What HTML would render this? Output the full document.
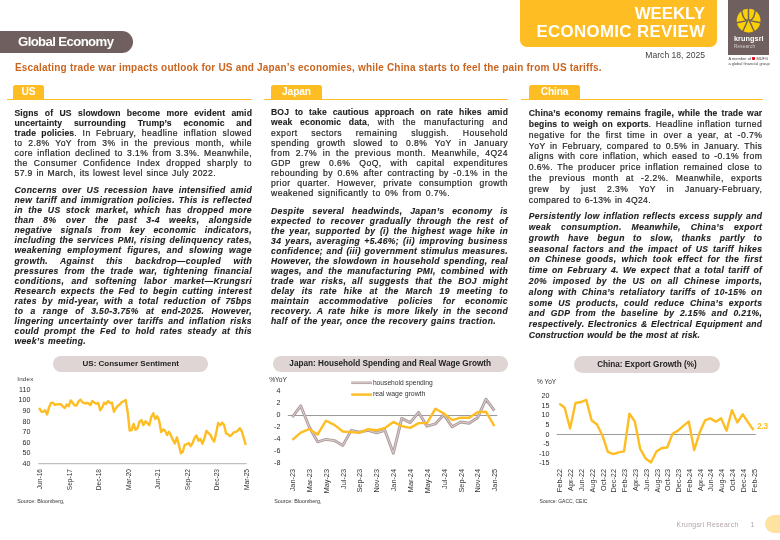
<!DOCTYPE html>
<html><head><meta charset="utf-8">
<style>
*{margin:0;padding:0;box-sizing:border-box}
html,body{width:780px;height:540px;overflow:hidden;background:#fff}
body{position:relative;will-change:transform;font-family:"Liberation Sans",sans-serif;color:#3d3d3d}
.a{position:absolute;white-space:nowrap}
.ln{position:absolute;height:10px;line-height:10px;font-size:8.6px;text-align:justify;text-align-last:justify;white-space:nowrap;overflow:visible;color:#262626;-webkit-text-stroke:0.2px #262626}
.ln.last{text-align-last:left}
.ln b{font-weight:bold;color:#1f1f1f;-webkit-text-stroke:0.12px #1f1f1f}
.ln.bi{font-weight:bold;font-style:italic;color:#222;-webkit-text-stroke:0.12px #222}
.ln.cn{line-height:10.8px;height:10.8px}
.yl{position:absolute;font-size:6.8px;line-height:10px;color:#2a2a2a;white-space:nowrap}
.yb{font-size:7.1px}
.xl{position:absolute;font-size:7px;line-height:8px;height:8px;color:#333;white-space:nowrap;transform-origin:0 0;transform:rotate(-90deg) translate(-100%,-4px);text-align:right}
.pill{position:absolute;background:#dfd5d5;border-radius:9px;font-weight:bold;font-size:8.2px;color:#222;text-align:center;white-space:nowrap}
.tab{position:absolute;top:85px;height:14.5px;background:#febd22;border-radius:2.5px 2.5px 0 0;color:#fff;font-weight:bold;font-size:10.2px;letter-spacing:-0.15px;line-height:13.6px;text-align:center}
.rule{position:absolute;top:99px;height:1px;background:#febd22}
.src{position:absolute;font-size:5px;color:#333;white-space:nowrap}
</style></head><body>
<!-- header -->
<div class="a" style="left:0;top:31px;width:133px;height:22.4px;background:#6f605f;border-radius:0 11.2px 11.2px 0"></div>
<div class="a" style="left:18px;top:32.5px;line-height:18px;font-size:13.2px;letter-spacing:-0.62px;font-weight:bold;color:#fff">Global Economy</div>
<div class="a" style="left:519.5px;top:0;width:197px;height:47px;background:#febd22;border-radius:0 0 7px 7px"></div>
<div class="a" style="right:75px;top:4.6px;font-size:16.8px;line-height:18.5px;font-weight:bold;color:#fff;text-align:right">WEEKLY<br><span style="letter-spacing:0.38px;margin-right:-0.38px">ECONOMIC REVIEW</span></div>
<div class="a" style="right:75px;top:50px;font-size:8.6px;line-height:10px;color:#444">March 18, 2025</div>
<div class="a" style="left:728.3px;top:0;width:40.9px;height:54.8px;background:#6f605f"></div>
<svg class="a" style="left:728px;top:0" width="42" height="55" viewBox="728 0 42 55">
 <circle cx="748.6" cy="20.7" r="11.9" fill="#f9cf05"/>
 <g transform="translate(748.5 20.8)" fill="none" stroke="#6f605f" stroke-width="1.45" stroke-linecap="butt" stroke-linejoin="miter">
  <path d="M0,-13 L0,-2 Q-2.2,3 -5.9,11"/>
  <path d="M0,-2 Q2.2,3 5.9,11"/>
  <path d="M-6.9,-10.8 C-5.8,-5 -5.4,-2.0 -1.2,-0.2 M-13,2.2 L-1.2,-0.2"/>
  <path d="M6.9,-10.8 C5.8,-5 5.4,-2.0 1.2,-0.2 M13,2.2 L1.2,-0.2"/>
 </g>
</svg>
<div class="a" style="left:733.9px;top:34.9px;font-size:7.3px;line-height:8px;letter-spacing:0.08px;font-weight:bold;color:#fff">krungsri</div>
<div class="a" style="left:733.9px;top:43.8px;font-size:4.6px;line-height:6px;letter-spacing:0.2px;color:#d6cfce">Research</div>
<div class="a" style="left:728.4px;top:57.2px;font-size:3.9px;line-height:4.5px;letter-spacing:0.05px;color:#444">A member of <span style="display:inline-block;width:3.2px;height:3.2px;border-radius:1px;background:#e3001b;vertical-align:-0.3px"></span> MUFG<br>a global financial group</div>
<div class="a" style="left:15px;top:62px;font-size:10px;line-height:11px;letter-spacing:0.19px;font-weight:bold;color:#ca6520">Escalating trade war impacts outlook for US and Japan’s economies, while China starts to feel the pain from US tariffs.</div>
<!-- tabs -->
<div class="tab" style="left:13.1px;width:30.7px">US</div>
<div class="rule" style="left:7.2px;width:245.2px"></div>
<div class="tab" style="left:271.3px;width:50.3px">Japan</div>
<div class="rule" style="left:263.5px;width:244.5px"></div>
<div class="tab" style="left:529px;width:51px">China</div>
<div class="rule" style="left:521.2px;width:241.5px"></div>
<!-- text -->
<div class="ln r" style="left:14.5px;top:107.5px;width:237.5px;letter-spacing:0.45px"><b style="letter-spacing:0.12px">Signs of US slowdown become more evident amid</b></div>
<div class="ln r" style="left:14.5px;top:117.53px;width:237.5px;letter-spacing:0.45px"><b style="letter-spacing:0.12px">uncertainty surrounding Trump’s economic and</b></div>
<div class="ln r" style="left:14.5px;top:127.56px;width:237.5px;letter-spacing:0.45px"><b style="letter-spacing:0.12px">trade policies</b>. In February, headline inflation slowed</div>
<div class="ln r" style="left:14.5px;top:137.59px;width:237.5px;letter-spacing:0.45px">to 2.8% YoY from 3% in the previous month, while</div>
<div class="ln r" style="left:14.5px;top:147.62px;width:237.5px;letter-spacing:0.45px">core inflation declined to 3.1% from 3.3%. Meanwhile,</div>
<div class="ln r" style="left:14.5px;top:157.65px;width:237.5px;letter-spacing:0.45px">the Consumer Confidence Index dropped sharply to</div>
<div class="ln r" style="left:14.5px;top:167.68px;width:201.5px;letter-spacing:0.39px">57.9 in March, its lowest level since July 2022.</div>
<div class="ln bi" style="left:14.5px;top:185.3px;width:237.5px;letter-spacing:0.35px">Concerns over US recession have intensified amid</div>
<div class="ln bi" style="left:14.5px;top:195.33px;width:237.5px;letter-spacing:0.35px">new tariff and immigration policies. This is reflected</div>
<div class="ln bi" style="left:14.5px;top:205.36px;width:237.5px;letter-spacing:0.35px">in the US stock market, which has dropped more</div>
<div class="ln bi" style="left:14.5px;top:215.39px;width:237.5px;letter-spacing:0.35px">than 8% over the past 3-4 weeks, alongside</div>
<div class="ln bi" style="left:14.5px;top:225.42px;width:237.5px;letter-spacing:0.35px">negative signals from key economic indicators,</div>
<div class="ln bi" style="left:14.5px;top:235.45px;width:237.5px;letter-spacing:0.35px">including the services PMI, rising delinquency rates,</div>
<div class="ln bi" style="left:14.5px;top:245.48px;width:237.5px;letter-spacing:0.35px">weakening employment figures, and slowing wage</div>
<div class="ln bi" style="left:14.5px;top:255.51px;width:237.5px;letter-spacing:0.35px">growth. Against this backdrop—coupled with</div>
<div class="ln bi" style="left:14.5px;top:265.54px;width:237.5px;letter-spacing:0.35px">pressures from the trade war, tightening financial</div>
<div class="ln bi" style="left:14.5px;top:275.57px;width:237.5px;letter-spacing:0.35px">conditions, and softening labor market—Krungsri</div>
<div class="ln bi" style="left:14.5px;top:285.6px;width:237.5px;letter-spacing:0.35px">Research expects the Fed to begin cutting interest</div>
<div class="ln bi" style="left:14.5px;top:295.63px;width:237.5px;letter-spacing:0.35px">rates by mid-year, with a total reduction of 75bps</div>
<div class="ln bi" style="left:14.5px;top:305.66px;width:237.5px;letter-spacing:0.35px">to a range of 3.50-3.75% at end-2025. However,</div>
<div class="ln bi" style="left:14.5px;top:315.69px;width:237.5px;letter-spacing:0.35px">lingering uncertainty over tariffs and inflation risks</div>
<div class="ln bi" style="left:14.5px;top:325.72px;width:237.5px;letter-spacing:0.35px">could prompt the Fed to hold rates steady at this</div>
<div class="ln bi" style="left:14.5px;top:335.75px;width:71.5px;letter-spacing:0.33px">week’s meeting.</div>
<div class="ln r" style="left:271px;top:107.4px;width:237px;letter-spacing:0.45px"><b style="letter-spacing:0.12px">BOJ to take cautious approach on rate hikes amid</b></div>
<div class="ln r" style="left:271px;top:117.45px;width:237px;letter-spacing:0.45px"><b style="letter-spacing:0.12px">weak economic data</b>, with the manufacturing and</div>
<div class="ln r" style="left:271px;top:127.5px;width:237px;letter-spacing:0.45px">export sectors remaining sluggish. Household</div>
<div class="ln r" style="left:271px;top:137.55px;width:237px;letter-spacing:0.45px">spending growth slowed to 0.8% YoY in January</div>
<div class="ln r" style="left:271px;top:147.6px;width:237px;letter-spacing:0.45px">from 2.7% in the previous month. Meanwhile, 4Q24</div>
<div class="ln r" style="left:271px;top:157.65px;width:237px;letter-spacing:0.45px">GDP grew 0.6% QoQ, with capital expenditures</div>
<div class="ln r" style="left:271px;top:167.7px;width:237px;letter-spacing:0.45px">rebounding by 0.6% after contracting by -0.1% in the</div>
<div class="ln r" style="left:271px;top:177.75px;width:237px;letter-spacing:0.45px">prior quarter. However, private consumption growth</div>
<div class="ln r" style="left:271px;top:187.8px;width:179px;letter-spacing:0.45px">weakened significantly to 0% from 0.7%.</div>
<div class="ln bi" style="left:271px;top:205.6px;width:237px;letter-spacing:0.35px">Despite several headwinds, Japan’s economy is</div>
<div class="ln bi" style="left:271px;top:215.63px;width:237px;letter-spacing:0.35px">expected to recover gradually through the rest of</div>
<div class="ln bi" style="left:271px;top:225.66px;width:237px;letter-spacing:0.35px">the year, supported by (i) the highest wage hike in</div>
<div class="ln bi" style="left:271px;top:235.69px;width:237px;letter-spacing:0.35px">34 years, averaging +5.46%; (ii) improving business</div>
<div class="ln bi" style="left:271px;top:245.72px;width:237px;letter-spacing:0.35px">confidence; and (iii) government stimulus measures.</div>
<div class="ln bi" style="left:271px;top:255.75px;width:237px;letter-spacing:0.35px">However, the slowdown in household spending, real</div>
<div class="ln bi" style="left:271px;top:265.78px;width:237px;letter-spacing:0.35px">wages, and the manufacturing PMI, combined with</div>
<div class="ln bi" style="left:271px;top:275.81px;width:237px;letter-spacing:0.35px">trade war risks, all suggests that the BOJ might</div>
<div class="ln bi" style="left:271px;top:285.84px;width:237px;letter-spacing:0.35px">delay its rate hike at the March 19 meeting to</div>
<div class="ln bi" style="left:271px;top:295.87px;width:237px;letter-spacing:0.35px">maintain accommodative policies for economic</div>
<div class="ln bi" style="left:271px;top:305.9px;width:237px;letter-spacing:0.35px">recovery. A rate hike is more likely in the second</div>
<div class="ln bi" style="left:271px;top:315.93px;width:225px;letter-spacing:0.35px">half of the year, once the recovery gains traction.</div>
<div class="ln cn" style="left:528.8px;top:108.2px;width:233.5px;letter-spacing:0.45px"><b style="letter-spacing:0.12px">China’s economy remains fragile, while the trade war</b></div>
<div class="ln cn" style="left:528.8px;top:119px;width:233.5px;letter-spacing:0.45px"><b style="letter-spacing:0.12px">begins to weigh on exports</b>. Headline inflation turned</div>
<div class="ln cn" style="left:528.8px;top:129.8px;width:233.5px;letter-spacing:0.45px">negative for the first time in over a year, at -0.7%</div>
<div class="ln cn" style="left:528.8px;top:140.6px;width:233.5px;letter-spacing:0.45px">YoY in February, compared to 0.5% in January. This</div>
<div class="ln cn" style="left:528.8px;top:151.4px;width:233.5px;letter-spacing:0.45px">aligns with core inflation, which eased to -0.1% from</div>
<div class="ln cn" style="left:528.8px;top:162.2px;width:233.5px;letter-spacing:0.45px">0.6%. The producer price inflation remained close to</div>
<div class="ln cn" style="left:528.8px;top:173px;width:233.5px;letter-spacing:0.45px">the previous month at -2.2%. Meanwhile, exports</div>
<div class="ln cn" style="left:528.8px;top:183.8px;width:233.5px;letter-spacing:0.45px">grew by just 2.3% YoY in January-February,</div>
<div class="ln cn" style="left:528.8px;top:194.6px;width:122.2px;letter-spacing:0.35px">compared to 6-13% in 4Q24.</div>
<div class="ln cn bi" style="left:528.8px;top:211.2px;width:233.5px;letter-spacing:0.3px">Persistently low inflation reflects excess supply and</div>
<div class="ln cn bi" style="left:528.8px;top:222px;width:233.5px;letter-spacing:0.35px">weak consumption. Meanwhile, China’s export</div>
<div class="ln cn bi" style="left:528.8px;top:232.8px;width:233.5px;letter-spacing:0.35px">growth have begun to slow, thanks partly to</div>
<div class="ln cn bi" style="left:528.8px;top:243.6px;width:233.5px;letter-spacing:0.35px">seasonal factors and the impact of US tariff hikes</div>
<div class="ln cn bi" style="left:528.8px;top:254.4px;width:233.5px;letter-spacing:0.35px">on Chinese goods, which took effect for the first</div>
<div class="ln cn bi" style="left:528.8px;top:265.2px;width:233.5px;letter-spacing:0.35px">time on February 4. We expect that a total tariff of</div>
<div class="ln cn bi" style="left:528.8px;top:276px;width:233.5px;letter-spacing:0.35px">20% imposed by the US on all Chinese imports,</div>
<div class="ln cn bi" style="left:528.8px;top:286.8px;width:233.5px;letter-spacing:0.35px">along with China’s retaliatory tariffs of 10-15% on</div>
<div class="ln cn bi" style="left:528.8px;top:297.6px;width:233.5px;letter-spacing:0.35px">some US products, could reduce China’s exports</div>
<div class="ln cn bi" style="left:528.8px;top:308.4px;width:233.5px;letter-spacing:0.35px">and GDP from the baseline by 2.15% and 0.21%,</div>
<div class="ln cn bi" style="left:528.8px;top:319.2px;width:233.5px;letter-spacing:0.29px">respectively. Electronics &amp; Electrical Equipment and</div>
<div class="ln cn bi" style="left:528.8px;top:330px;width:171.2px;letter-spacing:0.13px">Construction would be the most at risk.</div>
<!-- charts -->
<div class="pill" style="left:53.3px;top:355.8px;width:155px;height:16px;line-height:16px;font-size:8px">US: Consumer Sentiment</div>
<div class="pill" style="left:272.7px;top:355.9px;width:235px;height:16.6px;line-height:16.6px">Japan: Household Spending and Real Wage Growth</div>
<div class="pill" style="left:574.2px;top:355.8px;width:145.5px;height:17px;line-height:17px">China: Export Growth (%)</div>
<svg class="a" style="left:0;top:0" width="780" height="540" viewBox="0 0 780 540">
<line x1="38.3" y1="463.7" x2="246.7" y2="463.7" stroke="#b0b0b0" stroke-width="1"/>
<polyline points="39.20,407.90 41.17,411.55 43.13,411.76 45.10,410.30 47.07,414.47 49.03,407.59 51.00,403.00 52.97,402.68 54.93,404.98 56.90,404.35 58.87,404.25 60.83,404.14 62.80,406.33 64.77,408.00 66.73,404.46 68.70,406.23 70.67,400.39 72.63,402.68 74.60,405.40 76.57,405.60 78.53,401.43 80.50,399.66 82.47,402.37 84.43,403.21 86.40,403.00 88.37,403.31 90.33,405.08 92.30,401.02 94.27,402.58 96.23,403.73 98.20,402.89 100.17,410.30 102.13,407.59 104.10,402.79 106.07,404.04 108.03,401.12 110.00,403.00 111.97,402.79 113.93,411.76 115.90,408.21 117.87,405.81 119.83,404.46 121.80,401.85 123.77,401.33 125.73,400.08 127.70,412.49 129.67,430.53 131.63,430.01 133.60,423.96 135.57,429.80 137.53,428.13 139.50,421.56 141.47,420.10 143.43,425.21 145.40,421.25 147.37,423.02 149.33,425.32 151.30,416.87 153.27,413.32 155.23,418.96 157.20,416.24 159.17,420.73 161.13,432.10 163.10,429.49 165.07,430.64 167.03,435.12 169.00,431.78 170.97,435.33 172.93,439.92 174.90,443.47 176.87,437.42 178.83,444.51 180.80,453.27 182.77,451.71 184.73,444.72 186.70,444.30 188.67,442.94 190.63,446.18 192.60,443.15 194.57,437.73 196.53,435.54 198.50,440.75 200.47,438.98 202.43,443.88 204.40,438.46 206.37,430.85 208.33,433.04 210.30,434.60 212.27,438.88 214.23,441.48 216.20,432.72 218.17,423.02 220.13,425.21 222.10,422.61 224.07,424.90 226.03,433.35 228.00,434.29 229.97,436.16 231.93,434.60 233.90,432.31 235.87,431.89 237.83,430.53 239.80,428.24 241.77,431.26 243.73,437.94 245.70,445.03" fill="none" stroke="#febd22" stroke-width="2.4" stroke-linejoin="round"/>
<line x1="287.8" y1="415.5" x2="497.3" y2="415.5" stroke="#909090" stroke-width="0.9"/>
<polyline points="292.30,417.20 300.72,405.80 309.14,426.80 317.56,441.80 325.98,439.40 334.40,440.60 342.82,445.40 351.24,430.40 359.66,432.20 368.08,430.40 376.50,432.80 384.92,430.40 393.34,453.20 401.76,418.40 410.18,422.60 418.60,412.40 427.02,426.20 435.44,423.80 443.86,414.80 452.28,426.80 460.70,422.00 469.12,423.20 477.54,417.80 485.96,399.20 494.38,410.60" fill="none" stroke="#ad9b9a" stroke-width="2.9" stroke-linejoin="round"/>
<polyline points="292.30,417.20 300.72,405.80 309.14,426.80 317.56,441.80 325.98,439.40 334.40,440.60 342.82,445.40 351.24,430.40 359.66,432.20 368.08,430.40 376.50,432.80 384.92,430.40 393.34,453.20 401.76,418.40 410.18,422.60 418.60,412.40 427.02,426.20 435.44,423.80 443.86,414.80 452.28,426.80 460.70,422.00 469.12,423.20 477.54,417.80 485.96,399.20 494.38,410.60" fill="none" stroke="#e3d8d8" stroke-width="0.9" stroke-linejoin="round"/>
<polyline points="292.30,439.90 300.72,432.70 309.14,429.10 317.56,434.50 325.98,420.70 334.40,424.90 342.82,431.50 351.24,432.10 359.66,432.70 368.08,429.10 376.50,430.30 384.92,427.90 393.34,421.90 401.76,426.10 410.18,427.90 418.60,423.10 427.02,423.10 435.44,408.70 443.86,413.50 452.28,420.10 460.70,417.70 469.12,417.70 477.54,412.30 485.96,411.70 494.38,426.10" fill="none" stroke="#febd22" stroke-width="2.4" stroke-linejoin="round"/>
<line x1="351.2" y1="382.8" x2="372" y2="382.8" stroke="#ad9b9a" stroke-width="2.5"/>
<line x1="351.2" y1="382.8" x2="372" y2="382.8" stroke="#e9e1e1" stroke-width="0.8"/>
<line x1="351.2" y1="394.6" x2="372" y2="394.6" stroke="#febd22" stroke-width="2.4"/>
<line x1="556.7" y1="434.5" x2="755.8" y2="434.5" stroke="#909090" stroke-width="0.9"/>
<polyline points="559.30,403.59 564.69,407.81 570.09,428.55 575.48,403.01 580.88,402.05 586.27,399.94 591.67,420.48 597.06,424.52 602.46,435.65 607.85,451.97 613.25,454.08 618.64,452.36 624.04,451.40 629.43,413.76 634.83,421.44 640.22,448.90 645.62,458.50 651.01,462.53 656.41,451.59 661.80,447.94 667.20,447.56 672.59,433.73 677.99,430.66 683.38,425.86 688.78,421.44 694.17,450.05 699.57,432.77 704.96,420.48 710.36,418.37 715.75,421.83 721.15,418.37 726.54,430.66 731.94,410.12 737.33,422.40 742.73,414.34 748.12,422.40 753.52,430.08" fill="none" stroke="#febd22" stroke-width="2.4" stroke-linejoin="round"/>
</svg>
<div class="yl yb" style="right:749.6px;top:384.96px">110</div>
<div class="yl yb" style="right:749.6px;top:395.48px">100</div>
<div class="yl yb" style="right:749.6px;top:406px">90</div>
<div class="yl yb" style="right:749.6px;top:416.52px">80</div>
<div class="yl yb" style="right:749.6px;top:427.04px">70</div>
<div class="yl yb" style="right:749.6px;top:437.56px">60</div>
<div class="yl yb" style="right:749.6px;top:448.08px">50</div>
<div class="yl yb" style="right:749.6px;top:458.6px">40</div>
<div class="yl yb" style="right:499.6px;top:386.3px">4</div>
<div class="yl yb" style="right:499.6px;top:398.3px">2</div>
<div class="yl yb" style="right:499.6px;top:410.3px">0</div>
<div class="yl yb" style="right:499.6px;top:422.3px">-2</div>
<div class="yl yb" style="right:499.6px;top:434.3px">-4</div>
<div class="yl yb" style="right:499.6px;top:446.3px">-6</div>
<div class="yl yb" style="right:499.6px;top:458.3px">-8</div>
<div class="yl yb" style="right:230.5px;top:391.2px">20</div>
<div class="yl yb" style="right:230.5px;top:400.8px">15</div>
<div class="yl yb" style="right:230.5px;top:410.4px">10</div>
<div class="yl yb" style="right:230.5px;top:420px">5</div>
<div class="yl yb" style="right:230.5px;top:429.6px">0</div>
<div class="yl yb" style="right:230.5px;top:439.2px">-5</div>
<div class="yl yb" style="right:230.5px;top:448.8px">-10</div>
<div class="yl yb" style="right:230.5px;top:458.4px">-15</div>
<div class="xl" style="left:40.2px;top:469px;font-size:6.6px">Jun-16</div>
<div class="xl" style="left:69.7px;top:469px;font-size:6.6px">Sep-17</div>
<div class="xl" style="left:99.2px;top:469px;font-size:6.6px">Dec-18</div>
<div class="xl" style="left:128.7px;top:469px;font-size:6.6px">Mar-20</div>
<div class="xl" style="left:158.2px;top:469px;font-size:6.6px">Jun-21</div>
<div class="xl" style="left:187.7px;top:469px;font-size:6.6px">Sep-22</div>
<div class="xl" style="left:217.2px;top:469px;font-size:6.6px">Dec-23</div>
<div class="xl" style="left:246.7px;top:469px;font-size:6.6px">Mar-25</div>
<div class="xl" style="left:293.1px;top:468.6px;font-size:7.3px">Jan-23</div>
<div class="xl" style="left:309.94px;top:468.6px;font-size:7.3px">Mar-23</div>
<div class="xl" style="left:326.78px;top:468.6px;font-size:7.3px">May-23</div>
<div class="xl" style="left:343.62px;top:468.6px;font-size:7.3px">Jul-23</div>
<div class="xl" style="left:360.46px;top:468.6px;font-size:7.3px">Sep-23</div>
<div class="xl" style="left:377.3px;top:468.6px;font-size:7.3px">Nov-23</div>
<div class="xl" style="left:394.14px;top:468.6px;font-size:7.3px">Jan-24</div>
<div class="xl" style="left:410.98px;top:468.6px;font-size:7.3px">Mar-24</div>
<div class="xl" style="left:427.82px;top:468.6px;font-size:7.3px">May-24</div>
<div class="xl" style="left:444.66px;top:468.6px;font-size:7.3px">Jul-24</div>
<div class="xl" style="left:461.5px;top:468.6px;font-size:7.3px">Sep-24</div>
<div class="xl" style="left:478.34px;top:468.6px;font-size:7.3px">Nov-24</div>
<div class="xl" style="left:495.18px;top:468.6px;font-size:7.3px">Jan-25</div>
<div class="xl" style="left:560.4px;top:469px;font-size:7.3px">Feb-22</div>
<div class="xl" style="left:571.19px;top:469px;font-size:7.3px">Apr-22</div>
<div class="xl" style="left:581.98px;top:469px;font-size:7.3px">Jun-22</div>
<div class="xl" style="left:592.77px;top:469px;font-size:7.3px">Aug-22</div>
<div class="xl" style="left:603.56px;top:469px;font-size:7.3px">Oct-22</div>
<div class="xl" style="left:614.35px;top:469px;font-size:7.3px">Dec-22</div>
<div class="xl" style="left:625.14px;top:469px;font-size:7.3px">Feb-23</div>
<div class="xl" style="left:635.93px;top:469px;font-size:7.3px">Apr-23</div>
<div class="xl" style="left:646.72px;top:469px;font-size:7.3px">Jun-23</div>
<div class="xl" style="left:657.51px;top:469px;font-size:7.3px">Aug-23</div>
<div class="xl" style="left:668.3px;top:469px;font-size:7.3px">Oct-23</div>
<div class="xl" style="left:679.09px;top:469px;font-size:7.3px">Dec-23</div>
<div class="xl" style="left:689.88px;top:469px;font-size:7.3px">Feb-24</div>
<div class="xl" style="left:700.67px;top:469px;font-size:7.3px">Apr-24</div>
<div class="xl" style="left:711.46px;top:469px;font-size:7.3px">Jun-24</div>
<div class="xl" style="left:722.25px;top:469px;font-size:7.3px">Aug-24</div>
<div class="xl" style="left:733.04px;top:469px;font-size:7.3px">Oct-24</div>
<div class="xl" style="left:743.83px;top:469px;font-size:7.3px">Dec-24</div>
<div class="xl" style="left:754.62px;top:469px;font-size:7.3px">Feb-25</div>
<div class="a" style="left:17.2px;top:375px;font-size:6.2px;line-height:7px;letter-spacing:0.25px;color:#333">Index</div>
<div class="a" style="left:269.2px;top:375.6px;font-size:6.6px;line-height:8px;color:#333">%YoY</div>
<div class="a" style="left:537px;top:377.6px;font-size:6.5px;line-height:8px;color:#333">% YoY</div>
<div class="a" style="left:372.9px;top:378.5px;font-size:6.7px;line-height:8px;color:#333">household spending</div>
<div class="a" style="left:372.9px;top:389.8px;font-size:6.9px;line-height:8px;color:#333">real wage growth</div>
<div class="a" style="left:757.3px;top:421.8px;font-size:8.2px;line-height:10px;letter-spacing:-0.3px;font-weight:bold;color:#febd22">2.3</div>
<div class="src" style="left:17.3px;top:497.6px;font-size:5.35px">Source: Bloomberg,</div>
<div class="src" style="left:274.3px;top:498.3px;font-size:5.35px">Source: Bloomberg,</div>
<div class="src" style="left:539.6px;top:498px">Source: GACC, CEIC</div>
<!-- footer -->
<div class="a" style="left:676.6px;top:519.5px;font-size:6.8px;line-height:9px;letter-spacing:0.33px;color:#b3a4a4">Krungsri Research</div>
<div class="a" style="left:750.5px;top:520px;font-size:7px;line-height:9px;color:#b3a4a4">1</div>
<div class="a" style="left:765px;top:514.6px;width:30px;height:18.4px;background:#fde2a0;border-radius:9.2px"></div>
</body></html>
